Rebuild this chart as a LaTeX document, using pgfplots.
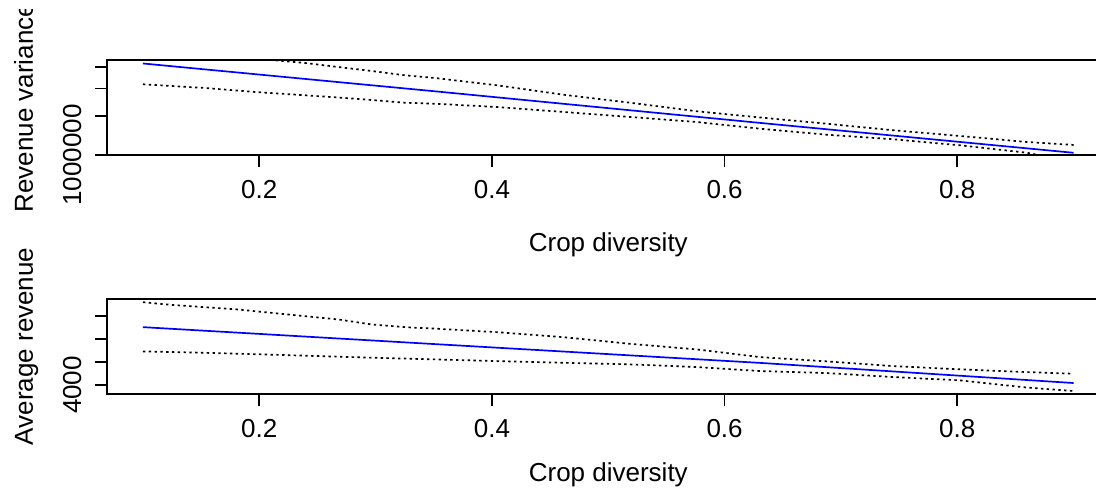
\documentclass[border=0pt]{standalone}
\usepackage{fontspec}
\setmainfont{Liberation Sans}
\usepackage{pgfplots}
\pgfplotsset{compat=1.18}

\pgfplotsset{
  rpanel/.style={
    scale only axis, width=495.5pt, height=47.5pt,
    xmin=0.0691, xmax=0.921,
    xtick={0.2,0.4,0.6,0.8},
    tick align=outside, major tick length=6pt,
    xtick pos=left, ytick pos=left,
    axis line style={line width=0.85pt},
    every tick/.style={black, line width=0.85pt},
    tick label style={font=\fontsize{13}{15}\selectfont},
    /pgf/number format/assume math mode=true,
    xticklabel style={anchor=north, inner sep=0pt},
    xticklabel shift=6.4pt,
    yticklabel style={rotate=90, anchor=south, inner sep=0pt},
    yticklabel shift=6.6pt,
    every axis plot/.append style={line width=0.85pt},
  },
  band/.style={black, dash pattern=on 1.2pt off 1.7pt},
  fit/.style={blue},
}

\begin{document}
\begin{tikzpicture}
% top panel: revenue variance (log scale)
\begin{axis}[rpanel,
  at={(53.5pt,165.85pt)}, anchor=south west,
  ymode=log, ymin=995800, ymax=2682000,
  ytick={1000000,1500000,2000000,2500000},
  yticklabels={1000000,,,},
]
\addplot[fit] coordinates {
 (0.1,2594000) (0.351,1941000) (0.6304,1396000) (0.9,1022000)};
\addplot[band] coordinates {
 (0.1,3113000) (0.2193,2663000) (0.2393,2608000) (0.2677,2501000)
 (0.2966,2399000) (0.3252,2293000) (0.3510,2230000) (0.4041,2067000)
 (0.4611,1874000) (0.5187,1723000) (0.5760,1576000) (0.6304,1477000)
 (0.6877,1384000) (0.7447,1293000) (0.8023,1218000) (0.8597,1144000)
 (0.9,1109000)};
\addplot[band] coordinates {
 (0.1,2088000) (0.1533,2009000) (0.1963,1927000) (0.2393,1862000)
 (0.2823,1797000) (0.3252,1723000) (0.3510,1705000) (0.4041,1648000)
 (0.4611,1565000) (0.5187,1485000) (0.5760,1409000) (0.6304,1314000)
 (0.6877,1234000) (0.7447,1177000) (0.8023,1105000) (0.8597,1023000)
 (0.8826,968400) (0.9,948200)};
\end{axis}

% bottom panel: average revenue
\begin{axis}[rpanel,
  at={(53.5pt,46.5pt)}, anchor=south west,
  ymin=3609, ymax=7748,
  ytick={4000,5000,6000,7000},
  yticklabels={4000,,,},
]
\addplot[fit] coordinates {
 (0.1,6522) (0.351,5783) (0.6304,4965) (0.9,4087)};
\addplot[band] coordinates {
 (0.1,7609) (0.1247,7491) (0.1533,7391) (0.1819,7291) (0.2107,7143)
 (0.2393,7000) (0.2679,6857) (0.2966,6639) (0.3252,6522) (0.3510,6457)
 (0.4041,6304) (0.4611,6087) (0.5187,5796) (0.5760,5552) (0.6304,5217)
 (0.6877,5030) (0.7447,4826) (0.8023,4683) (0.8597,4565) (0.9,4491)};
\addplot[band] coordinates {
 (0.1,5465) (0.1533,5404) (0.2021,5335) (0.2507,5261) (0.2995,5187)
 (0.3510,5117) (0.4041,5043) (0.4611,4970) (0.5187,4900) (0.5760,4783)
 (0.6304,4609) (0.6877,4522) (0.7447,4348) (0.8023,4204) (0.8597,3890)
 (0.9,3739)};
\end{axis}

% axis titles
\node[anchor=base, inner sep=0pt, font=\fontsize{13}{15}\selectfont]
  at (304.15pt,117.5pt) {Crop diversity};
\node[anchor=base, inner sep=0pt, font=\fontsize{13}{15}\selectfont]
  at (304.15pt,3pt) {Crop diversity};
\begin{scope}
\clip (0pt,0pt) rectangle (50pt,238.7pt);
\node[rotate=90, anchor=base, inner sep=0pt, font=\fontsize{13}{15}\selectfont]
  at (16.5pt,189.6pt) {Revenue variance};
\end{scope}
\begin{scope}
\clip (0pt,0pt) rectangle (50pt,119.5pt);
\node[rotate=90, anchor=base, inner sep=0pt, font=\fontsize{13}{15}\selectfont]
  at (16.5pt,70.3pt) {Average revenue};
\end{scope}

\pgfresetboundingbox
\useasboundingbox (0pt,0pt) rectangle (548pt,243.5pt);
\end{tikzpicture}
\end{document}
